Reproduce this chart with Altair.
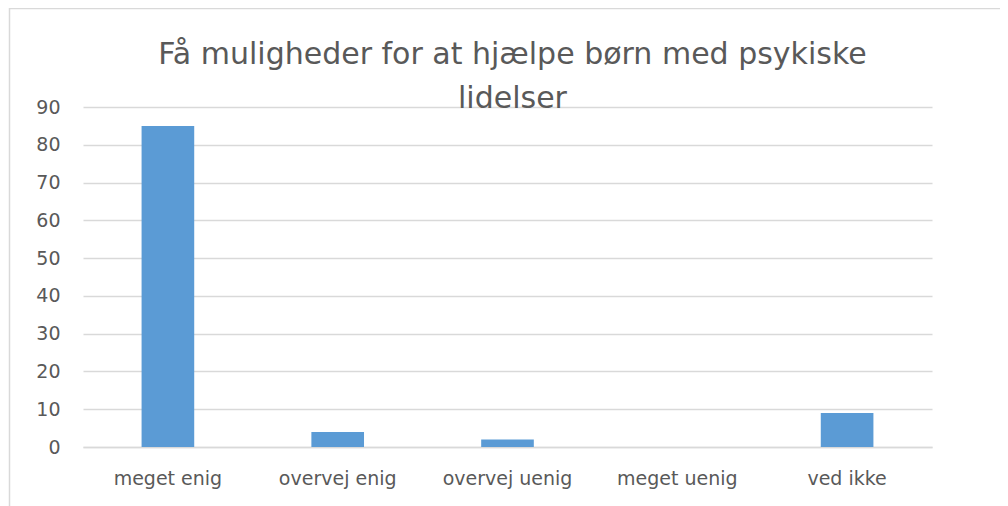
import altair as alt
import pandas as pd

categories = ["meget enig", "overvej enig", "overvej uenig", "meget uenig", "ved ikke"]
values = [85, 4, 2, 0, 9]
title_lines = ["Få muligheder for at hjælpe børn med psykiske", "lidelser"]
y_ticks = [0, 10, 20, 30, 40, 50, 60, 70, 80, 90]

df = pd.DataFrame({"kategori": categories, "antal": values})

FONT = "DejaVu Sans"
TEXT = "#595959"
GRID = "#d9d9d9"

border = alt.Chart(pd.DataFrame({"k": [0]})).mark_rect(
    fill="transparent", stroke=GRID, strokeWidth=1.5
).encode(
    x=alt.value(-73.5), x2=alt.value(1000), y=alt.value(-98.5), y2=alt.value(700)
)

bars = alt.Chart(df).mark_bar(color="#5b9bd5").encode(
    x=alt.X(
        "kategori:N",
        sort=categories,
        scale=alt.Scale(paddingInner=0.69, paddingOuter=0.345),
        axis=alt.Axis(
            title=None, labelAngle=0, labelFontSize=19, labelColor=TEXT,
            labelFont=FONT, labelPadding=22, ticks=False, domain=True,
            domainColor=GRID, domainWidth=1.5,
        ),
    ),
    y=alt.Y(
        "antal:Q",
        scale=alt.Scale(domain=[0, 90], nice=False),
        axis=alt.Axis(
            title=None, values=y_ticks, grid=True, gridColor=GRID, gridWidth=1.5,
            ticks=False, domain=False, labelPadding=23, labelFontSize=19,
            labelColor=TEXT, labelFont=FONT,
        ),
    ),
)

chart = alt.layer(border, bars).properties(
    width=849,
    height=340,
    title=alt.TitleParams(
        text=title_lines, fontSize=30, font=FONT, fontWeight="normal",
        color=TEXT, anchor="middle", lineHeight=44, offset=-106, dx=5,
    ),
    autosize=alt.AutoSizeParams(type="none"),
    padding={"left": 75, "top": 99, "right": 68, "bottom": 59},
).configure_view(stroke=None)

chart.save("out.html", embed_options={"renderer": "svg", "actions": False})
